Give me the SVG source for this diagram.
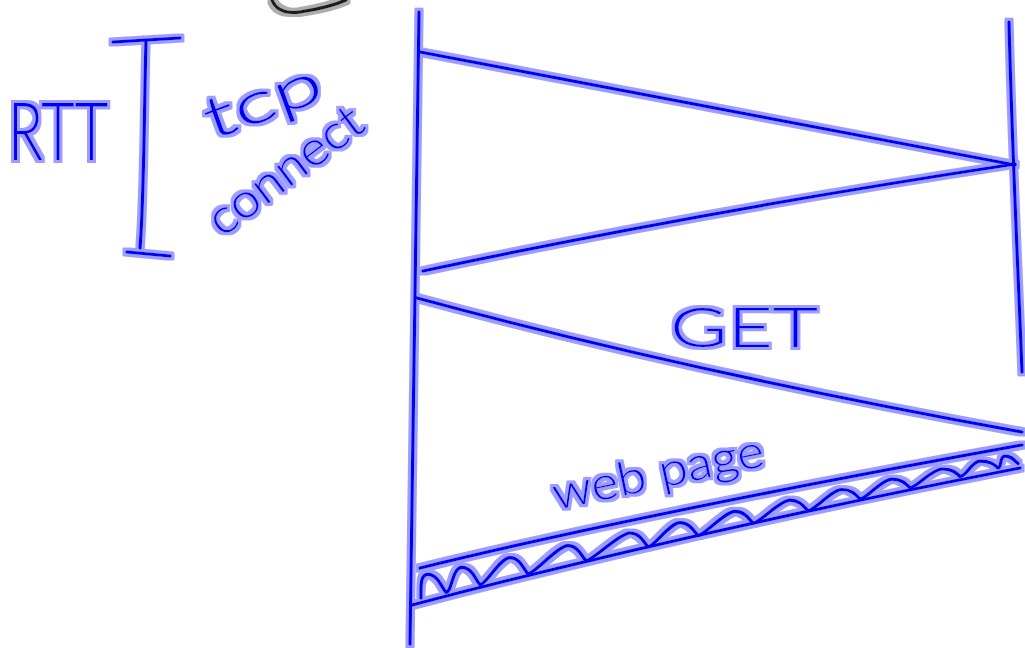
<svg xmlns="http://www.w3.org/2000/svg" width="1025" height="648" viewBox="0 0 1025 648">
<defs>
<filter id="glow" x="-5%" y="-5%" width="110%" height="110%">
<feMorphology in="SourceAlpha" operator="dilate" radius="2.6" result="d"/>
<feFlood flood-color="#7d7dff" flood-opacity="0.75"/>
<feComposite in2="d" operator="in" result="h"/>
<feMerge><feMergeNode in="h"/><feMergeNode in="SourceGraphic"/></feMerge>
</filter>
<filter id="glowgray" x="-10%" y="-50%" width="120%" height="200%">
<feMorphology in="SourceAlpha" operator="dilate" radius="2.6" result="d"/>
<feFlood flood-color="#999" flood-opacity="0.8"/>
<feComposite in2="d" operator="in" result="h"/>
<feMerge><feMergeNode in="h"/><feMergeNode in="SourceGraphic"/></feMerge>
</filter>
</defs>
<style>
.ink{fill:none;stroke:#0000f2;stroke-width:3.2;stroke-linecap:round;stroke-linejoin:round}
.lbl{font-family:Lato,"Liberation Sans",Arial,sans-serif;font-weight:300;fill:#0000f2}
</style>
<rect width="1025" height="648" fill="#fff"/>
<g id="scribble" filter="url(#glowgray)">
<path d="M272,0 C276,10 285,14 300,12 C320,9 335,5 346,0" fill="none" stroke="#1a1a1a" stroke-width="3.2" stroke-linecap="round"/>
</g>
<g filter="url(#glow)">
<g id="client-timeline"><path class="ink" d="M419,12 C417,200 413,420 410,644"/></g>
<g id="server-timeline"><path class="ink" d="M1009,22 C1012,150 1019,290 1022,372"/></g>
<g id="rtt-bracket">
<path class="ink" d="M113,42 L180,38 M146,40 C144,120 144,200 140,248 M127,252 L170,256"/>
<text class="lbl" x="8" y="160" font-size="80" textLength="100" lengthAdjust="spacingAndGlyphs">RTT</text>
</g>
<g id="connectors">
<path class="ink" d="M420,52 Q700,104 1015,165"/>
<path class="ink" d="M1015,164 Q700,212 423,271"/>
<path class="ink" d="M417,298 Q690,372 1022,432"/>
<path class="ink" d="M420,568 Q640,514 1022,445"/>
<path class="ink" d="M412,605 Q690,532 1020,468"/>
<path class="ink" d="M421,598 C421,586 420,574.4 428,574.4 C438,574.4 442,588.3 446,592.3 C452,592.3 452,567.4 462,567.4 C472,567.4 476,580.7 480,584.7 C486,584.7 500,557.6 510,557.6 C520,557.6 524,569.9 528,573.9 C534,573.9 558,545.7 568,545.7 C578,545.7 582,556.8 586,560.8 C592,560.8 620,533 630,533 C640,533 644,542.8 648,546.8 C654,546.8 670,522.7 680,522.7 C690,522.7 694,531.6 698,535.6 C704,535.6 725,511.4 735,511.4 C745,511.4 749,519.2 753,523.2 C759,523.2 780,500.2 790,500.2 C800,500.2 804,506.8 808,510.8 C814,510.8 832,489.5 842,489.5 C852,489.5 856,495.1 860,499.1 C866,499.1 882,479.2 892,479.2 C902,479.2 906,483.8 910,487.8 C916,487.8 932,469 942,469 C952,469 956,472.5 960,476.5 C966,476.5 972,461.2 980,461.2 C990,461.2 994,464 998,468 C1002,468 999,456.1 1005,456.1 C1012,456.1 1014,460 1018,463.5"/>
</g>
<g id="labels">
<text class="lbl" transform="translate(212,140) rotate(-20)" font-size="58" textLength="122" lengthAdjust="spacingAndGlyphs">tcp</text>
<text class="lbl" transform="translate(222,238) rotate(-37)" font-size="48" textLength="182" lengthAdjust="spacingAndGlyphs">connect</text>
<text class="lbl" x="670" y="347" font-size="56" textLength="148" lengthAdjust="spacingAndGlyphs">GET</text>
<text class="lbl" transform="translate(556,510) rotate(-12)" font-size="46" textLength="215" lengthAdjust="spacingAndGlyphs">web page</text>
</g>
</g>
</svg>
